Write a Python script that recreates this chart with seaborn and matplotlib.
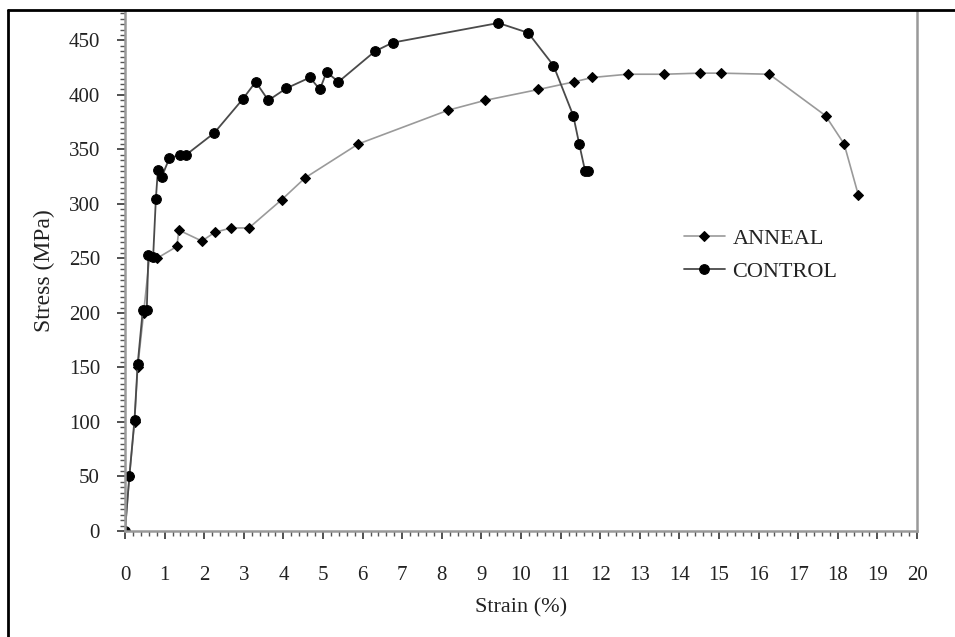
import matplotlib
matplotlib.use("Agg")
import matplotlib.pyplot as plt
import seaborn as sns
import numpy as np
import pandas as pd
from matplotlib.lines import Line2D
from matplotlib.ticker import MultipleLocator

# ---- data ----
control_strain = [0.0, 0.11, 0.24, 0.32, 0.45, 0.55, 0.59, 0.71, 0.78, 0.83, 0.93, 1.12,
                  1.39, 1.54, 2.25, 2.97, 3.30, 3.62, 4.07, 4.67, 4.92, 5.09, 5.39,
                  6.31, 6.76, 9.43, 10.18, 10.82, 11.32, 11.47, 11.62, 11.70]
control_stress = [0, 50, 102, 153, 203, 203, 253, 251, 305, 331, 325, 342,
                  345, 345, 365, 396, 412, 395, 406, 416, 405, 421, 412,
                  440, 448, 466, 457, 427, 381, 355, 330, 330]

anneal_strain = [0.0, 0.11, 0.24, 0.32, 0.47, 0.62, 0.80, 1.31, 1.36, 1.94, 2.27, 2.68,
                 3.13, 3.96, 4.55, 5.89, 8.16, 9.09, 10.44, 11.34, 11.80, 12.69,
                 13.62, 14.52, 15.04, 16.27, 17.69, 18.16, 18.52]
anneal_stress = [0, 50, 100, 150, 200, 252, 250, 261, 276, 266, 274, 278,
                 278, 304, 324, 355, 386, 395, 405, 412, 416, 419,
                 419, 420, 420, 419, 381, 355, 308]

series_names = ["ANNEAL", "CONTROL"]
x_ticks = list(range(0, 21))
y_ticks = list(range(0, 451, 50))

df_a = pd.DataFrame({"strain": anneal_strain, "stress": anneal_stress})
df_c = pd.DataFrame({"strain": control_strain, "stress": control_stress})

sns.set_style("white")
plt.rcParams["font.family"] = ["Liberation Serif", "DejaVu Serif"]

fig = plt.figure(figsize=(9.55, 6.37), dpi=100)
ax = fig.add_axes([125 / 955, 1 - 531 / 637, (917 - 125) / 955, (531 - 11) / 637])

sns.lineplot(data=df_a, x="strain", y="stress", sort=False, ax=ax,
             color="#9a9a9a", lw=1.2, marker="D", markersize=5.5,
             markerfacecolor="black", markeredgecolor="black", label=series_names[0])
sns.lineplot(data=df_c, x="strain", y="stress", sort=False, ax=ax,
             color="#4a4a4a", lw=1.3, marker="o", markersize=7,
             markerfacecolor="black", markeredgecolor="black", label=series_names[1])

ax.set_xlim(0, 20)
ax.set_ylim(0, 477)
ax.set_xticks(x_ticks)
ax.set_yticks(y_ticks)
ax.xaxis.set_minor_locator(MultipleLocator(0.2))
ax.yaxis.set_minor_locator(MultipleLocator(5))
ax.tick_params(axis="both", which="major", direction="out", length=6, width=1.2,
               color="#333333", labelsize=15, labelcolor="#222222")
ax.tick_params(axis="both", which="minor", direction="out", length=3.5, width=1,
               color="#555555")
ax.tick_params(axis="x", which="major", pad=19)
ax.tick_params(axis="y", which="major", pad=12)
ax.tick_params(left=True, bottom=True, which="both")

for side in ["left", "bottom", "right"]:
    ax.spines[side].set_color("#999999")
    ax.spines[side].set_linewidth(1.8)
ax.spines["top"].set_visible(False)

ax.set_xlabel("Strain (%)", fontsize=16, color="#222222")
ax.set_ylabel("Stress (MPa)", fontsize=17, color="#222222")
ax.xaxis.set_label_coords(0.5, -0.13)
ax.yaxis.set_label_coords(-0.088, 0.5)

leg = ax.legend(loc="upper left", bbox_to_anchor=(0.68, 0.62), frameon=False,
                fontsize=16, handlelength=1.85, handletextpad=0.35, labelspacing=0.55)
for t in leg.get_texts():
    t.set_color("#222222")

# outer frame of the picture
fig.add_artist(Line2D([8 / 955, 8 / 955], [0, 1 - 10 / 637], transform=fig.transFigure,
                      color="black", lw=2))
fig.add_artist(Line2D([8 / 955, 1], [1 - 10 / 637, 1 - 10 / 637], transform=fig.transFigure,
                      color="black", lw=2))

fig.savefig("out.png", dpi=100)
